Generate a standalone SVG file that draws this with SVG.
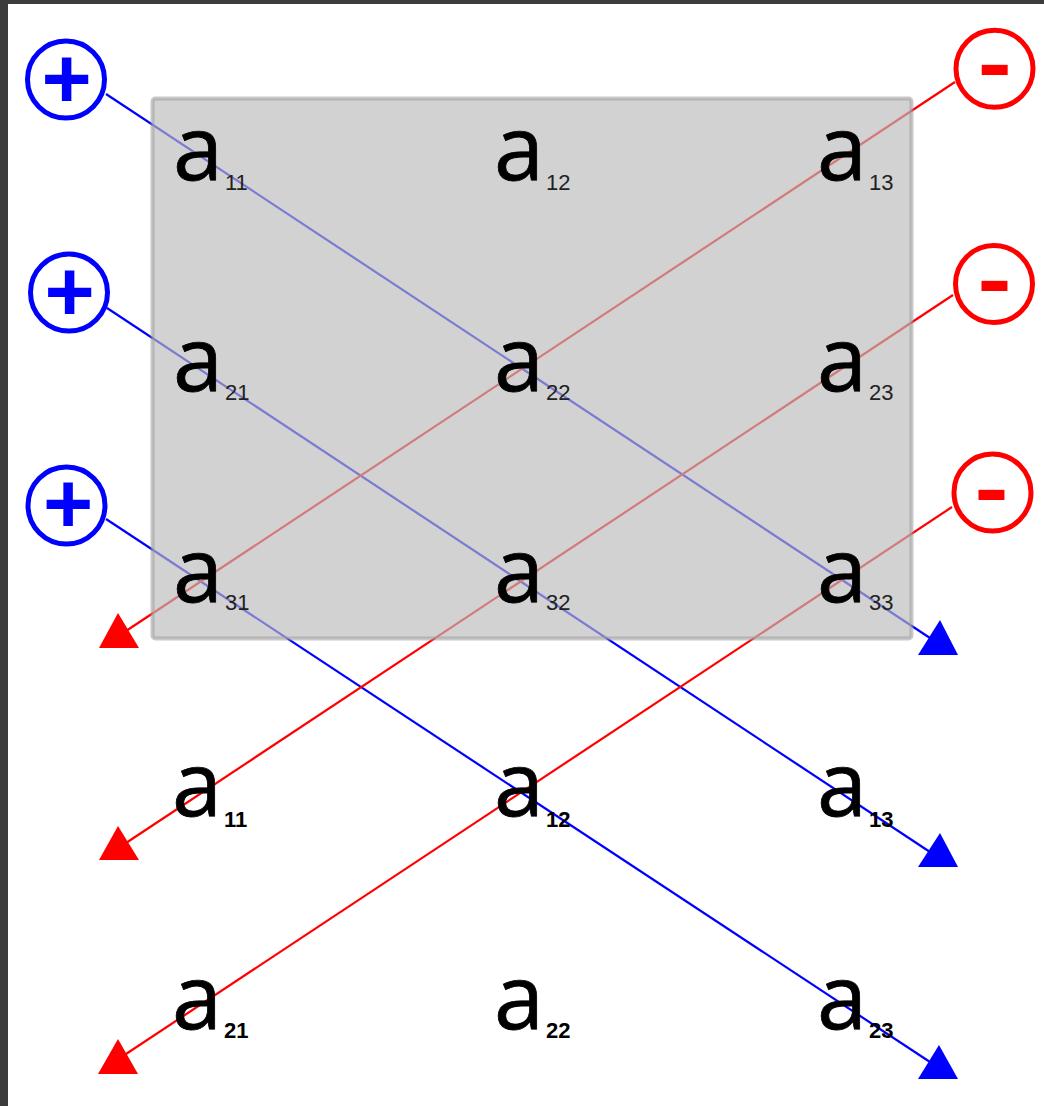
<svg xmlns="http://www.w3.org/2000/svg" width="1044" height="1106" viewBox="0 0 1044 1106">
<style>
.bl{stroke:#0000ff;stroke-width:2.2;fill:none}
.rl{stroke:#ff0000;stroke-width:2.2;fill:none}
.bh{fill:#0000ff}
.rh{fill:#ff0000}
.cb{fill:#ffffff;stroke:#0000ff;stroke-width:5}
.cr{fill:#ffffff;stroke:#ff0000;stroke-width:5}
.sym{font-family:"Liberation Sans",Arial,sans-serif;font-weight:bold;font-size:86px;text-anchor:middle}
.a{font-family:"Open Sans","Noto Sans",sans-serif;font-size:90px;fill:#000;stroke:#000;stroke-width:0.8}
.s{font-family:"Liberation Sans",Arial,sans-serif;font-size:22px;fill:#222;stroke:none}
.sb{font-family:"Liberation Sans",Arial,sans-serif;font-size:22px;font-weight:bold;fill:#000;stroke:none}
</style>
<rect x="0" y="0" width="1044" height="1106" fill="#ffffff"/>
<rect x="0" y="0" width="1044" height="4" fill="#3c3c3c"/>
<rect x="0" y="0" width="8" height="1106" fill="#3c3c3c"/>
<g id="connectors">
<line class="bl" x1="106" y1="94" x2="930" y2="638"/>
<line class="bl" x1="107" y1="308" x2="930" y2="852"/>
<line class="bl" x1="106" y1="519" x2="930" y2="1062"/>
<line class="rl" x1="955" y1="82" x2="126" y2="631"/>
<line class="rl" x1="953" y1="295" x2="126" y2="843"/>
<line class="rl" x1="952" y1="507" x2="126" y2="1054"/>
<polygon class="bh" points="940,620 918,655 958,655"/>
<polygon class="bh" points="940,833 918,867 958,867"/>
<polygon class="bh" points="939,1045 918,1079 958,1079"/>
<polygon class="rh" points="118,613 99,648 139,648"/>
<polygon class="rh" points="118,826 99,860 139,860"/>
<polygon class="rh" points="118,1039 98,1074 138,1074"/>
</g>
<g id="matrix">
<rect x="152.5" y="98.5" width="759" height="540" rx="3" fill="#bababa" fill-opacity="0.66" stroke="#9a9a9a" stroke-opacity="0.55" stroke-width="4"/>
</g>
<g id="a11"><text class="a" x="173" y="180">a<tspan class="s" dx="2" dy="10">11</tspan></text></g>
<g id="a12"><text class="a" x="494" y="180">a<tspan class="s" dx="2" dy="10">12</tspan></text></g>
<g id="a13"><text class="a" x="817" y="180">a<tspan class="s" dx="2" dy="10">13</tspan></text></g>
<g id="a21"><text class="a" x="173" y="391">a<tspan class="s" dx="2" dy="9">21</tspan></text></g>
<g id="a22"><text class="a" x="494" y="391">a<tspan class="s" dx="2" dy="9">22</tspan></text></g>
<g id="a23"><text class="a" x="817" y="391">a<tspan class="s" dx="2" dy="9">23</tspan></text></g>
<g id="a31"><text class="a" x="173" y="602">a<tspan class="s" dx="2" dy="8">31</tspan></text></g>
<g id="a32"><text class="a" x="494" y="602">a<tspan class="s" dx="2" dy="8">32</tspan></text></g>
<g id="a33"><text class="a" x="817" y="602">a<tspan class="s" dx="2" dy="8">33</tspan></text></g>
<g id="b11"><text class="a" x="172" y="816">a<tspan class="sb" dx="2" dy="11">11</tspan></text></g>
<g id="b12"><text class="a" x="494" y="816">a<tspan class="sb" dx="2" dy="11">12</tspan></text></g>
<g id="b13"><text class="a" x="817" y="816">a<tspan class="sb" dx="2" dy="11">13</tspan></text></g>
<g id="b21"><text class="a" x="172" y="1029">a<tspan class="sb" dx="2" dy="9">21</tspan></text></g>
<g id="b22"><text class="a" x="494" y="1029">a<tspan class="sb" dx="2" dy="9">22</tspan></text></g>
<g id="b23"><text class="a" x="817" y="1029">a<tspan class="sb" dx="2" dy="9">23</tspan></text></g>
<g id="plus1"><circle class="cb" cx="66" cy="79.5" r="38.5"/><text class="sym" x="66.5" y="108" fill="#0000ff">+</text></g>
<g id="plus2"><circle class="cb" cx="69" cy="292.5" r="38.5"/><text class="sym" x="69.5" y="321" fill="#0000ff">+</text></g>
<g id="plus3"><circle class="cb" cx="66.5" cy="505.5" r="38.5"/><text class="sym" x="68" y="533" fill="#0000ff">+</text></g>
<g id="minus1"><circle class="cr" cx="994.5" cy="68.8" r="38.5"/><text class="sym" x="994.7" y="91.5" fill="#ff0000" textLength="34" lengthAdjust="spacingAndGlyphs">-</text></g>
<g id="minus2"><circle class="cr" cx="994" cy="284" r="38.5"/><text class="sym" x="994.5" y="307.5" fill="#ff0000" textLength="34" lengthAdjust="spacingAndGlyphs">-</text></g>
<g id="minus3"><circle class="cr" cx="992.5" cy="492.5" r="38.5"/><text class="sym" x="991.5" y="517" fill="#ff0000" textLength="34" lengthAdjust="spacingAndGlyphs">-</text></g>
</svg>
